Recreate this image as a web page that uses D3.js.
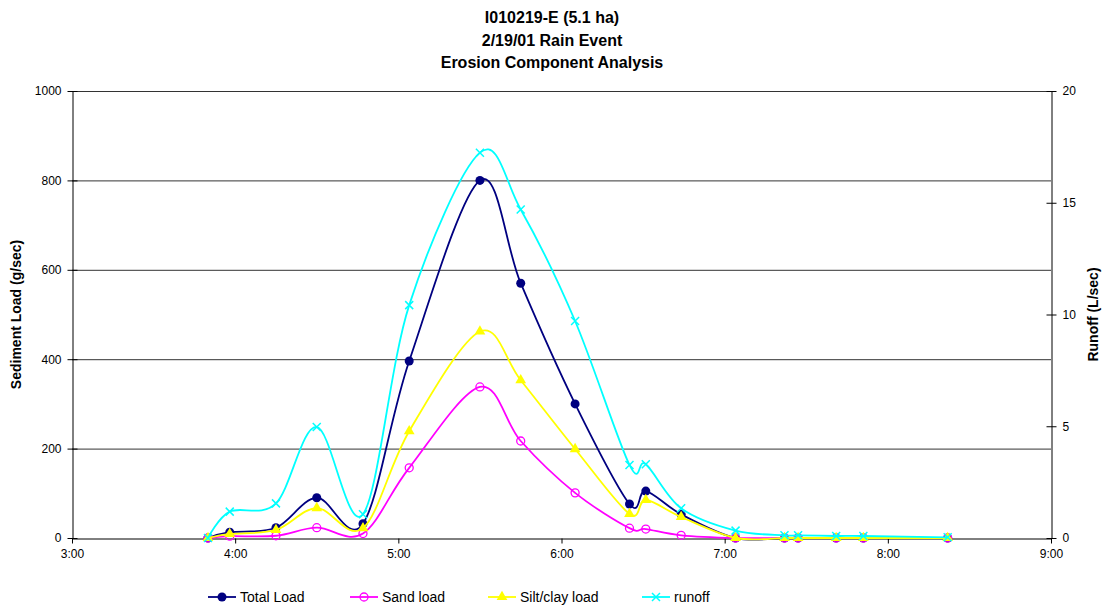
<!DOCTYPE html>
<html>
<head>
<meta charset="utf-8">
<script src="https://cdn.jsdelivr.net/npm/d3@7"></script>
<style>
  body { margin: 0; background: #fff; }
  svg { font-family: "Liberation Sans", Arial, sans-serif; }
</style>
</head>
<body>
<svg id="chart" width="1105" height="610"></svg>
<script>
// Sample times (h:mm) for the 2/19/01 event
const times = ["3:50","3:58","4:15","4:30","4:47","5:04","5:30","5:45","6:05","6:25","6:31","6:44","7:04","7:22","7:27","7:41","7:51","8:22"];
// Sediment loads, g/sec
const totalLoad = [0, 13, 23, 90, 32, 396, 800, 570, 300, 76, 105, 53, 0, 0, 0, 0, 0, 0];
const sandLoad  = [0, 4, 5, 23, 10, 157, 338, 217, 101, 22, 20, 6, 0, 0, 0, 0, 0, 0];
const siltLoad  = [0, 9, 18, 67, 22, 239, 462, 353, 199, 54, 85, 47, 0, 0, 0, 0, 0, 0];
// Runoff, L/sec
const runoff    = [0, 1.18, 1.55, 4.97, 1.06, 10.42, 17.24, 14.7, 9.71, 3.27, 3.3, 1.33, 0.33, 0.12, 0.12, 0.09, 0.09, 0.03];

const xTickLabels = ["3:00","4:00","5:00","6:00","7:00","8:00","9:00"];
const leftTicks = [0, 200, 400, 600, 800, 1000];
const rightTicks = [0, 5, 10, 15, 20];

const toHours = s => { const [h, m] = s.split(":").map(Number); return h + m / 60; };

const svg = d3.select("#chart");
const L = 72, R = 1051, T = 91, B = 538;

const x = d3.scaleLinear().domain([3, 9]).range([L, R]);
const yL = d3.scaleLinear().domain([0, 1000]).range([B, T]);
const yR = d3.scaleLinear().domain([0, 20]).range([B, T]);

// Title
const title = ["I010219-E (5.1 ha)", "2/19/01 Rain Event", "Erosion Component Analysis"];
svg.append("g").selectAll("text").data(title).join("text")
  .attr("x", 552).attr("y", (d, i) => 23 + i * 22.5)
  .attr("text-anchor", "middle").attr("font-weight", "bold").attr("font-size", 16)
  .text(d => d);

// Horizontal gridlines
svg.append("g").selectAll("line").data(leftTicks.filter(v => v > 0 && v < 1000)).join("line")
  .attr("x1", L).attr("x2", R).attr("y1", d => yL(d) + 0.5).attr("y2", d => yL(d) + 0.5)
  .attr("stroke", "#333").attr("stroke-width", 1);
// Top border of plot area
svg.append("line").attr("x1", L).attr("x2", R).attr("y1", T + 0.5).attr("y2", T + 0.5)
  .attr("stroke", "#333");

// Left axis
const gL = svg.append("g").attr("transform", `translate(${L + 0.5},0)`)
  .call(d3.axisLeft(yL).tickValues(leftTicks).tickSizeInner(5).tickSizeOuter(0).tickPadding(6).tickFormat(d3.format("d")));
gL.selectAll(".tick line").attr("x1", 5).attr("x2", -5);
// Right axis
const gR = svg.append("g").attr("transform", `translate(${R + 0.5},0)`)
  .call(d3.axisRight(yR).tickValues(rightTicks).tickSizeInner(5).tickSizeOuter(0).tickPadding(6).tickFormat(d3.format("d")));
gR.selectAll(".tick line").attr("x1", -5).attr("x2", 5);
// Bottom axis
const gB = svg.append("g").attr("transform", `translate(0,${B + 0.5})`)
  .call(d3.axisBottom(x).tickValues(d3.range(3, 10)).tickSizeInner(5).tickSizeOuter(0).tickPadding(6)
    .tickFormat((d, i) => xTickLabels[i]));

[gL, gR, gB].forEach(g => {
  g.selectAll("path.domain").attr("stroke", "#000");
  g.selectAll(".tick line").attr("stroke", "#000");
  g.selectAll("text").attr("font-size", 12).attr("fill", "#000").attr("font-family", "Liberation Sans, Arial, sans-serif");
});

// Axis titles
svg.append("text").attr("transform", `translate(21,${(T + B) / 2}) rotate(-90)`)
  .attr("text-anchor", "middle").attr("font-weight", "bold").attr("font-size", 14)
  .text("Sediment Load (g/sec)");
svg.append("text").attr("transform", `translate(1098,${(T + B) / 2}) rotate(-90)`)
  .attr("text-anchor", "middle").attr("font-weight", "bold").attr("font-size", 14)
  .text("Runoff (L/sec)");

const tx = times.map(toHours);
const series = [
  { name: "Total Load", vals: totalLoad, y: yL, color: "#000080", marker: "dot" },
  { name: "Sand load", vals: sandLoad, y: yL, color: "#FF00FF", marker: "ring" },
  { name: "Silt/clay load", vals: siltLoad, y: yL, color: "#FFFF00", marker: "tri" },
  { name: "runoff", vals: runoff, y: yR, color: "#00FFFF", marker: "cross" }
];

function drawMarker(g, type, color, cx, cy) {
  if (type === "dot") {
    g.append("circle").attr("cx", cx).attr("cy", cy).attr("r", 4.5).attr("fill", color);
  } else if (type === "ring") {
    g.append("circle").attr("cx", cx).attr("cy", cy).attr("r", 4).attr("fill", "none")
      .attr("stroke", color).attr("stroke-width", 1.3);
  } else if (type === "tri") {
    g.append("path").attr("d", d3.symbol(d3.symbolTriangle, 50)()).attr("transform", `translate(${cx},${cy})`)
      .attr("fill", color);
  } else {
    const s = 4;
    g.append("path").attr("d", `M${cx - s},${cy - s}L${cx + s},${cy + s}M${cx - s},${cy + s}L${cx + s},${cy - s}`)
      .attr("stroke", color).attr("stroke-width", 1.5).attr("fill", "none");
  }
}

const plot = svg.append("g");
series.forEach(s => {
  const pts = s.vals.map((v, i) => [x(tx[i]), s.y(v)]);
  plot.append("path").attr("d", d3.line().curve(d3.curveCardinal.tension(0))(pts))
    .attr("fill", "none").attr("stroke", s.color).attr("stroke-width", 1.8);
  const mg = plot.append("g");
  pts.forEach(p => drawMarker(mg, s.marker, s.color, p[0], p[1]));
});

// Legend
const legendX = [208, 350, 488, 642];
const lg = svg.append("g");
series.forEach((s, i) => {
  const x0 = legendX[i], yy = 597;
  lg.append("line").attr("x1", x0).attr("x2", x0 + 28).attr("y1", yy).attr("y2", yy)
    .attr("stroke", s.color).attr("stroke-width", 1.8);
  drawMarker(lg, s.marker, s.color, x0 + 14, yy);
  lg.append("text").attr("x", x0 + 32).attr("y", yy + 5).attr("font-size", 14).text(s.name);
});
</script>
</body>
</html>
